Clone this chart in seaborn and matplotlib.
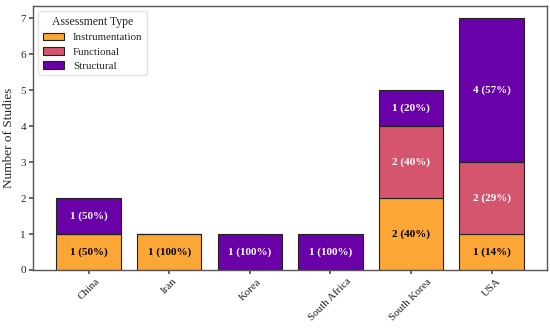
import numpy as np
import matplotlib
matplotlib.use("Agg")
import matplotlib.pyplot as plt
import seaborn as sns

countries = ["China", "Iran", "Korea", "South Africa", "South Korea", "USA"]
types = ["Instrumentation", "Functional", "Structural"]
instrumentation = [1, 1, 0, 0, 2, 1]
functional = [0, 0, 0, 0, 2, 2]
structural = [1, 0, 1, 1, 1, 4]

sns.set_theme(style="white")
plt.rcParams['font.family'] = ['Liberation Serif', 'DejaVu Serif']

colors = ["#fca636", "#d5546e", "#6a00a8"]
text_colors = ["black", "white", "white"]

fig, ax = plt.subplots(figsize=(5.5, 3.28), dpi=100)
series = [instrumentation, functional, structural]
totals = np.sum(series, axis=0)
bottom = np.zeros(len(countries))
x = np.arange(len(countries))
for vals, name, col, tc in zip(series, types, colors, text_colors):
    vals = np.array(vals)
    ax.bar(x, vals, 0.8, bottom=bottom, color=col, edgecolor="#222222",
           linewidth=0.8, label=name)
    for i, v in enumerate(vals):
        if v > 0:
            pct = round(100 * v / totals[i])
            ax.text(x[i], bottom[i] + v / 2, f"{v} ({pct}%)", ha="center",
                    va="center", color=tc, fontsize=8, fontweight="bold")
    bottom += vals

ax.set_xticks(x)
ax.set_xticklabels(countries, rotation=45, fontsize=7.8)
ax.set_ylabel("Number of Studies", fontsize=9.5, labelpad=4)
ax.set_ylim(0, 7.35)
ax.set_yticks(range(8))
ax.tick_params(axis="y", labelsize=8, length=3, color="#555555", left=True, pad=2)
ax.tick_params(axis="x", length=3, color="#555555", bottom=True, pad=2)
for s in ax.spines.values():
    s.set_color("#555555")
    s.set_linewidth(1)
leg = ax.legend(title="Assessment Type", loc="upper left", fontsize=7.8,
                title_fontsize=8.5, frameon=True, edgecolor="#dddddd",
                labelspacing=0.45, borderaxespad=0.5)
plt.subplots_adjust(left=0.06, right=0.995, top=0.982, bottom=0.177)
fig.savefig("out.png", dpi=100)
